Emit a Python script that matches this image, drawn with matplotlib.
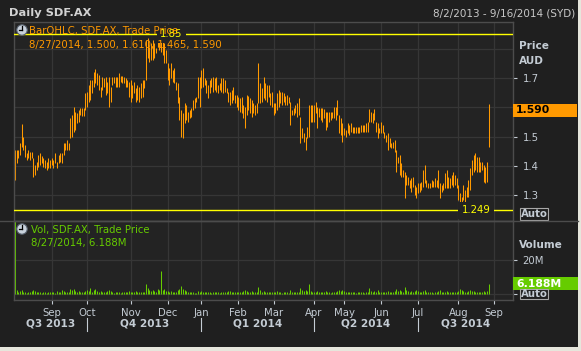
"""Daily SDF.AX bar chart with volume panel, dark terminal style."""

import matplotlib

matplotlib.use("Agg")

import matplotlib.pyplot as plt
import numpy as np
from matplotlib.patches import Circle, Rectangle
from matplotlib.transforms import blended_transform_factory

# --- data --------------------------------------------------------------------
# trading bars per month, Aug 2013 .. Aug 2014 (data ends 8/27/2014)
month_names = ["Aug", "Sep", "Oct", "Nov", "Dec", "Jan", "Feb", "Mar", "Apr", "May", "Jun", "Jul", "Aug"]
bars_per_month = [22, 21, 26, 22, 20, 22, 21, 24, 18, 22, 22, 24, 19]
quarter_labels = ["Q3 2013", "Q4 2013", "Q1 2014", "Q2 2014", "Q3 2014"]
quarter_start_months = [2, 5, 8, 11]  # Oct, Jan, Apr, Jul

highs = [
    1.454, 1.454, 1.454, 1.477, 1.542, 1.500, 1.471, 1.443, 1.454, 1.448, 1.448, 1.426, 1.403, 1.414, 1.437, 1.443, 1.434, 1.426, 1.420, 1.414, 1.426, 1.420,
    1.426, 1.420, 1.443, 1.414, 1.437, 1.443, 1.443, 1.477, 1.477, 1.488, 1.477, 1.562, 1.574, 1.602, 1.585, 1.580, 1.591, 1.596, 1.596, 1.596, 1.648,
    1.653, 1.676, 1.693, 1.693, 1.722, 1.730, 1.716, 1.710, 1.670, 1.705, 1.699, 1.705, 1.687, 1.705, 1.670, 1.705, 1.705, 1.705, 1.705, 1.716, 1.707, 1.707, 1.705, 1.699, 1.693, 1.687,
    1.693, 1.676, 1.687, 1.665, 1.676, 1.670, 1.682, 1.693, 1.693, 1.830, 1.835, 1.807, 1.818, 1.830, 1.818, 1.801, 1.850, 1.841, 1.830, 1.835, 1.818, 1.796,
    1.750, 1.733, 1.750, 1.727, 1.733, 1.687, 1.682, 1.636, 1.591, 1.580, 1.614, 1.608, 1.585, 1.591, 1.597, 1.625, 1.631, 1.636, 1.705, 1.705,
    1.727, 1.733, 1.699, 1.693, 1.676, 1.693, 1.699, 1.705, 1.699, 1.705, 1.676, 1.682, 1.699, 1.699, 1.693, 1.665, 1.653, 1.653, 1.659, 1.670, 1.642, 1.642,
    1.636, 1.631, 1.636, 1.608, 1.602, 1.642, 1.639, 1.631, 1.625, 1.614, 1.608, 1.614, 1.750, 1.682, 1.665, 1.705, 1.682, 1.676, 1.676, 1.648, 1.653,
    1.614, 1.614, 1.648, 1.659, 1.653, 1.651, 1.648, 1.639, 1.642, 1.636, 1.619, 1.591, 1.597, 1.608, 1.614, 1.631, 1.568, 1.528, 1.511, 1.500, 1.534, 1.608, 1.608, 1.608,
    1.608, 1.619, 1.602, 1.597, 1.597, 1.597, 1.593, 1.585, 1.585, 1.585, 1.585, 1.585, 1.602, 1.602, 1.625, 1.574, 1.562, 1.545,
    1.528, 1.523, 1.545, 1.540, 1.545, 1.534, 1.534, 1.534, 1.534, 1.534, 1.540, 1.540, 1.540, 1.545, 1.551, 1.593, 1.585, 1.580, 1.593, 1.551, 1.545, 1.528,
    1.551, 1.540, 1.517, 1.505, 1.511, 1.494, 1.477, 1.483, 1.488, 1.454, 1.431, 1.437, 1.409, 1.386, 1.380, 1.369, 1.363, 1.352, 1.358, 1.363, 1.335, 1.329,
    1.341, 1.341, 1.346, 1.386, 1.403, 1.352, 1.341, 1.341, 1.352, 1.350, 1.358, 1.352, 1.386, 1.341, 1.335, 1.341, 1.375, 1.386, 1.363, 1.358, 1.369, 1.380, 1.369, 1.358,
    1.335, 1.306, 1.295, 1.335, 1.318, 1.329, 1.352, 1.392, 1.420, 1.437, 1.443, 1.431, 1.431, 1.414, 1.414, 1.403, 1.397, 1.414, 1.610,
]
lows = [
    1.352, 1.409, 1.426, 1.437, 1.466, 1.454, 1.431, 1.420, 1.426, 1.420, 1.426, 1.363, 1.369, 1.386, 1.397, 1.403, 1.409, 1.397, 1.392, 1.386, 1.392, 1.392,
    1.403, 1.392, 1.409, 1.392, 1.409, 1.414, 1.409, 1.437, 1.454, 1.454, 1.454, 1.494, 1.500, 1.517, 1.523, 1.545, 1.551, 1.574, 1.570, 1.570, 1.591,
    1.602, 1.619, 1.625, 1.648, 1.670, 1.682, 1.676, 1.659, 1.636, 1.659, 1.670, 1.642, 1.648, 1.602, 1.619, 1.676, 1.682, 1.670, 1.670, 1.670, 1.687, 1.684, 1.682, 1.670, 1.670, 1.636,
    1.619, 1.631, 1.648, 1.619, 1.625, 1.619, 1.631, 1.636, 1.665, 1.693, 1.767, 1.756, 1.761, 1.761, 1.767, 1.784, 1.807, 1.796, 1.790, 1.778, 1.750, 1.750,
    1.693, 1.676, 1.699, 1.687, 1.682, 1.659, 1.614, 1.557, 1.500, 1.494, 1.545, 1.557, 1.551, 1.562, 1.568, 1.591, 1.597, 1.619, 1.631, 1.602,
    1.665, 1.670, 1.676, 1.648, 1.631, 1.648, 1.670, 1.653, 1.659, 1.653, 1.648, 1.659, 1.653, 1.648, 1.653, 1.648, 1.619, 1.608, 1.614, 1.625, 1.614, 1.602,
    1.591, 1.585, 1.580, 1.562, 1.528, 1.574, 1.591, 1.580, 1.568, 1.580, 1.574, 1.580, 1.614, 1.614, 1.619, 1.631, 1.625, 1.619, 1.636, 1.608, 1.602,
    1.574, 1.580, 1.591, 1.602, 1.614, 1.608, 1.619, 1.608, 1.608, 1.614, 1.540, 1.574, 1.574, 1.580, 1.568, 1.574, 1.477, 1.494, 1.483, 1.454, 1.494, 1.500, 1.551, 1.551,
    1.551, 1.580, 1.528, 1.568, 1.557, 1.551, 1.562, 1.523, 1.534, 1.551, 1.557, 1.562, 1.562, 1.557, 1.574, 1.511, 1.505, 1.483,
    1.505, 1.500, 1.511, 1.505, 1.517, 1.511, 1.511, 1.513, 1.513, 1.511, 1.517, 1.517, 1.517, 1.517, 1.517, 1.551, 1.551, 1.545, 1.557, 1.517, 1.494, 1.511,
    1.511, 1.511, 1.494, 1.483, 1.454, 1.466, 1.460, 1.460, 1.448, 1.380, 1.409, 1.369, 1.363, 1.363, 1.289, 1.335, 1.335, 1.324, 1.312, 1.329, 1.301, 1.289,
    1.306, 1.312, 1.318, 1.329, 1.341, 1.329, 1.324, 1.324, 1.329, 1.329, 1.327, 1.329, 1.324, 1.289, 1.312, 1.318, 1.324, 1.324, 1.324, 1.324, 1.335, 1.329, 1.335, 1.324,
    1.284, 1.249, 1.256, 1.284, 1.278, 1.295, 1.295, 1.318, 1.369, 1.380, 1.386, 1.380, 1.380, 1.380, 1.386, 1.346, 1.341, 1.346, 1.465,
]
# volume in millions of shares
volumes = [
    60.0, 2.1, 1.4, 1.8, 2.6, 1.2, 1.5, 0.9, 1.3, 1.1, 1.6, 2.4, 1.7, 1.2, 1.0, 1.4, 0.8, 1.1, 1.3, 0.9, 1.5, 1.2,
    1.0, 1.3, 0.9, 1.6, 1.2, 1.4, 2.2, 1.8, 1.1, 1.5, 1.3, 3.1, 2.5, 2.8, 1.9, 1.4, 1.6, 1.2, 1.0, 1.3, 2.0,
    2.4, 1.8, 3.6, 1.5, 2.2, 2.9, 1.6, 1.3, 1.9, 1.2, 1.0, 1.5, 1.7, 2.6, 1.8, 1.1, 0.9, 1.3, 1.2, 1.5, 0.8, 1.0, 1.4, 1.1, 1.3, 1.8,
    1.5, 1.2, 1.0, 1.6, 1.3, 1.1, 1.4, 1.2, 1.0, 5.8, 3.4, 2.1, 1.7, 2.5, 1.8, 1.2, 3.0, 2.2, 13.5, 2.6, 2.8, 1.9,
    1.8, 1.4, 1.6, 1.2, 1.5, 1.3, 2.6, 3.2, 4.5, 3.0, 2.2, 1.7, 1.4, 1.1, 1.3, 1.0, 0.9, 0.7, 1.8, 1.5,
    1.6, 1.4, 1.0, 1.2, 1.5, 1.1, 0.9, 1.3, 1.0, 1.2, 1.4, 0.9, 1.1, 1.3, 1.0, 1.2, 1.6, 1.8, 1.3, 1.1, 1.5, 1.4,
    1.3, 1.1, 1.5, 1.8, 2.4, 1.6, 1.2, 1.4, 1.7, 1.1, 1.0, 1.3, 4.2, 2.6, 1.5, 1.9, 1.3, 1.2, 1.0, 1.4, 1.2,
    1.1, 1.0, 1.6, 1.4, 1.2, 0.9, 1.0, 1.3, 1.1, 0.8, 2.3, 1.2, 1.0, 1.1, 1.4, 1.3, 3.8, 2.1, 1.6, 2.4, 1.8, 6.0, 1.7, 1.4,
    1.3, 1.1, 1.7, 1.2, 1.0, 1.3, 1.1, 1.6, 1.4, 1.0, 0.9, 1.1, 1.3, 1.2, 1.8, 2.2, 1.9, 2.6,
    1.6, 1.3, 1.5, 1.2, 1.0, 1.4, 1.1, 0.9, 1.2, 1.0, 1.3, 1.1, 0.8, 1.0, 1.4, 3.5, 1.9, 1.5, 2.0, 1.4, 2.3, 1.2,
    1.5, 1.2, 1.3, 1.1, 1.8, 1.2, 1.0, 1.1, 1.6, 3.0, 1.7, 2.4, 2.0, 1.5, 4.0, 2.2, 1.8, 1.5, 1.9, 1.4, 1.7, 2.1,
    1.6, 1.4, 1.2, 2.0, 2.3, 1.3, 1.0, 1.1, 1.2, 0.9, 1.1, 1.0, 1.8, 2.1, 1.3, 1.2, 1.5, 1.7, 1.2, 1.1, 1.3, 1.4, 1.2, 1.0,
    1.8, 2.9, 2.4, 1.7, 1.5, 1.3, 1.6, 2.5, 2.0, 1.8, 1.5, 1.3, 1.4, 1.1, 1.0, 1.6, 1.4, 1.8, 6.188,
]
last_date = "8/27/2014"
last_open = 1.500
last_close = 1.590
price_ticks = [1.3, 1.4, 1.5, 1.6, 1.7]
price_grid = [1.3, 1.4, 1.5, 1.6, 1.7, 1.8]

# --- style -------------------------------------------------------------------
W, H = 581, 351
BG = "#1f1f1f"
PANEL = "#232323"
FRAME = "#4c4c4c"
GRID = "#363636"
TXT = "#c4ccd4"
ORANGE = "#ff9900"
YELLOW = "#ffff00"
GREEN = "#66cc00"
LIGHT = "#e6e6dc"
FS = 7.3

plt.rcParams["font.family"] = ["DejaVu Sans"]


def rect(x0, y0, x1, y1):
    """pixel box (top-left origin) -> figure fraction rect"""
    return [x0 / W, 1 - y1 / H, (x1 - x0) / W, (y1 - y0) / H]


x = np.arange(len(highs))
month_starts = np.concatenate([[0], np.cumsum(bars_per_month)[:-1]])
sep_2014 = month_starts[-1] + bars_per_month[-1] + 2  # Aug 28, 29 then Sep 1
month_ticks = list(month_starts[1:]) + [sep_2014]
month_tick_labels = month_names[1:] + ["Sep"]
x_left, x_right = -0.8, sep_2014 + 11.5  # through 9/16/2014

fig = plt.figure(figsize=(W / 100, H / 100), dpi=100, facecolor=BG)
ax_p = fig.add_axes(rect(13.5, 22, 513, 221))
ax_v = fig.add_axes(rect(13.5, 221, 513, 300), sharex=ax_p)

for ax in (ax_p, ax_v):
    ax.set_facecolor(PANEL)
    for spine in ax.spines.values():
        spine.set_color(FRAME)
        spine.set_linewidth(1)
    for m in month_ticks:
        ax.axvline(m, color=GRID, lw=0.9, zorder=0)
    ax.yaxis.tick_right()
    ax.tick_params(axis="y", colors=TXT, labelsize=FS, length=3, width=0.8, pad=4)
ax_p.set_xlim(x_left, x_right)

# price panel
for g in price_grid:
    ax_p.axhline(g, color=GRID, lw=0.9, zorder=0)
ax_p.vlines(x, lows, highs, color=ORANGE, lw=0.75, zorder=2)
ax_p.set_ylim(1.212, 1.891)
ax_p.set_yticks(price_ticks)
# 1.6 sits under the last-price box, so it carries no label
ax_p.set_yticklabels(["" if abs(t - 1.6) < 1e-9 else f"{t:.1f}" for t in price_ticks])
ax_p.tick_params(axis="x", bottom=False, labelbottom=False)

hi_val, lo_val = max(highs), min(lows)
ax_p.axhline(hi_val, color=YELLOW, lw=1, zorder=3)
ax_p.axhline(lo_val, color=YELLOW, lw=1, zorder=3)
box = dict(boxstyle="square,pad=0.35", fc=PANEL, ec="none")
ax_p.text(int(np.argmax(highs)) + 1.5, hi_val, f"{hi_val:.2f}", color=YELLOW, fontsize=FS,
          va="center", ha="left", bbox=box, zorder=4)
ax_p.text(int(np.argmin(lows)) + 1.0, lo_val, f"{lo_val:.3f}", color=YELLOW, fontsize=FS,
          va="center", ha="left", bbox=box, zorder=4)

pt = blended_transform_factory(ax_p.transAxes, ax_p.transData)
ax_p.add_patch(Rectangle((1.001, last_close - 0.022), 0.127, 0.044, transform=pt,
                         fc=ORANGE, ec="none", clip_on=False, zorder=5))
ax_p.text(1.006, last_close, f"{last_close:.3f}", transform=pt, color="black", fontsize=FS + 0.5,
          fontweight="bold", va="center", ha="left", clip_on=False, zorder=6)

# volume panel
ax_v.axhline(0, color=GRID, lw=0.9, zorder=0)
ax_v.axhline(20, color=GRID, lw=0.9, zorder=0)
ax_v.vlines(x, 0, volumes, color=GREEN, lw=0.75, zorder=2)
ax_v.set_ylim(-3.5, 43)
ax_v.set_yticks([0, 20])
ax_v.set_yticklabels(["", "20M"])
ax_v.set_xticks(month_ticks)
ax_v.set_xticklabels(month_tick_labels)
ax_v.tick_params(axis="x", colors=TXT, labelsize=FS, length=3, width=0.8, pad=3)

vt = blended_transform_factory(ax_v.transAxes, ax_v.transData)
ax_v.add_patch(Rectangle((1.001, volumes[-1] - 3.8), 0.13, 7.6, transform=vt,
                         fc=GREEN, ec="none", clip_on=False, zorder=5))
ax_v.text(1.006, volumes[-1], f"{volumes[-1]:.3f}M", transform=vt, color="white", fontsize=FS + 0.5,
          fontweight="bold", va="center", ha="left", clip_on=False, zorder=6)

# quarter row
qt = blended_transform_factory(ax_v.transData, fig.transFigure)
q_edges = [x_left] + [month_starts[i] for i in quarter_start_months] + [x_right]
for label, a, b in zip(quarter_labels, q_edges[:-1], q_edges[1:]):
    ax_v.text((a + b) / 2, 1 - 324 / H, label, transform=qt, color=TXT, fontsize=FS + 0.3,
              fontweight="bold", ha="center", va="center", clip_on=False)
for i in quarter_start_months:
    ax_v.plot([month_starts[i]] * 2, [1 - 318 / H, 1 - 331 / H], transform=qt, color=TXT,
              lw=0.8, clip_on=False)

# overlay in pixel units for header, legends and side labels
ov = fig.add_axes([0, 0, 1, 1])
ov.set_xlim(0, W)
ov.set_ylim(H, 0)
ov.axis("off")
ov.patch.set_alpha(0)

ov.text(9, 13, "Daily SDF.AX", color="#d2d2d2", fontsize=FS + 0.9, fontweight="bold", va="center")
ov.text(575, 13, "8/2/2013 - 9/16/2014 (SYD)", color="#c8c8c8", fontsize=FS + 0.2, ha="right", va="center")
ov.plot([0, 578], [221, 221], color=FRAME, lw=1)

for cy in (30, 229):
    ov.add_patch(Circle((22, cy), 5.2, fc="#c9d2dc", ec="#5a6470", lw=0.8))
    ov.plot([22, 22], [cy, cy - 3.6], color="black", lw=0.9)
    ov.plot([22, 18.6], [cy, cy], color="black", lw=0.9)

ov.text(29, 31, "BarOHLC, SDF.AX, Trade Price", color=ORANGE, fontsize=FS, va="center")
ov.text(29, 45, f"{last_date}, {last_open:.3f}, {highs[-1]:.3f}, {lows[-1]:.3f}, {last_close:.3f}",
        color=ORANGE, fontsize=FS, va="center")
ov.text(31, 230, "Vol, SDF.AX, Trade Price", color=GREEN, fontsize=FS, va="center")
ov.text(31, 243, f"{last_date}, {volumes[-1]:.3f}M", color=GREEN, fontsize=FS, va="center")

ov.text(519, 46, "Price", color=TXT, fontsize=FS + 0.3, fontweight="bold", va="center")
ov.text(519, 61, "AUD", color=TXT, fontsize=FS + 0.3, fontweight="bold", va="center")
ov.text(519, 245, "Volume", color=TXT, fontsize=FS + 0.3, fontweight="bold", va="center")
for y0, y1 in ((208, 219.5), (288.5, 299)):
    ov.add_patch(Rectangle((520, y0), 28, y1 - y0, fc="none", ec="#a8a8a8", lw=0.8))
    ov.text(534, (y0 + y1) / 2, "Auto", color=TXT, fontsize=FS, fontweight="bold", ha="center", va="center")

ov.add_patch(Rectangle((0, 346.5), W, 5, fc=LIGHT, ec="none"))
ov.add_patch(Rectangle((578, 0), 3, H, fc=LIGHT, ec="none"))

fig.savefig("out.png", dpi=100, facecolor=BG)
